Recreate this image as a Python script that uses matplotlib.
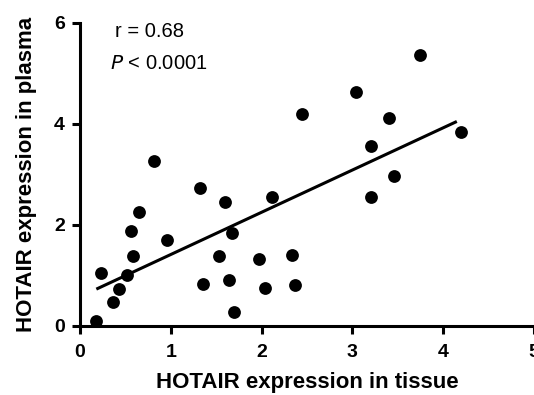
import matplotlib
matplotlib.use("Agg")
import matplotlib.pyplot as plt

tissue = [0.18, 0.23, 0.36, 0.43, 0.52, 0.56, 0.58, 0.65, 0.81, 0.96,
          1.32, 1.35, 1.53, 1.60, 1.64, 1.67, 1.70, 1.97, 2.04, 2.12,
          2.34, 2.37, 2.45, 3.04, 3.20, 3.21, 3.40, 3.46, 3.75, 4.20]
plasma = [0.10, 1.05, 0.47, 0.73, 1.01, 1.88, 1.38, 2.25, 3.26, 1.70,
          2.73, 0.83, 1.38, 2.45, 0.91, 1.84, 0.28, 1.32, 0.75, 2.55,
          1.40, 0.81, 4.19, 4.64, 3.56, 2.55, 4.11, 2.98, 5.36, 3.85]
fit_x = [0.18, 4.15]
fit_y = [0.73, 4.05]
xticks = [0, 1, 2, 3, 4, 5]
yticks = [0, 2, 4, 6]

plt.rcParams['font.family'] = ['Liberation Sans', 'DejaVu Sans']

fig = plt.figure(figsize=(5.34, 3.95), dpi=100)
ax = fig.add_axes([0.1498, 0.1747, 0.8502, 0.7671])
ax.set_xlim(0, 5)
ax.set_ylim(0, 6)
ax.scatter(tissue, plasma, s=85, color='black', zorder=3, clip_on=False, linewidths=0)
ax.plot(fit_x, fit_y, color='black', lw=2.2, solid_capstyle='butt')

for s in ['top', 'right']:
    ax.spines[s].set_visible(False)
for s in ['left', 'bottom']:
    ax.spines[s].set_linewidth(2.2)
ax.set_xticks(xticks)
ax.set_yticks(yticks)
ax.tick_params(width=2.2, length=6)
ax.tick_params(axis='x', labelsize=14, pad=7)
ax.tick_params(axis='y', labelsize=14, pad=5)
for lab in ax.get_xticklabels() + ax.get_yticklabels():
    lab.set_fontweight('bold')

ax.set_xlabel('HOTAIR expression in tissue', fontsize=16, fontweight='bold', labelpad=8)
ax.set_ylabel('HOTAIR expression in plasma', fontsize=16, fontweight='bold', labelpad=12)

ax.text(0.385, 5.83, 'r = 0.68', fontsize=14.5, va='center', ha='left')
ax.text(0.33, 5.2, r'$P$ < 0.0001', fontsize=14.5, va='center', ha='left')

fig.savefig('out.png', dpi=100)
